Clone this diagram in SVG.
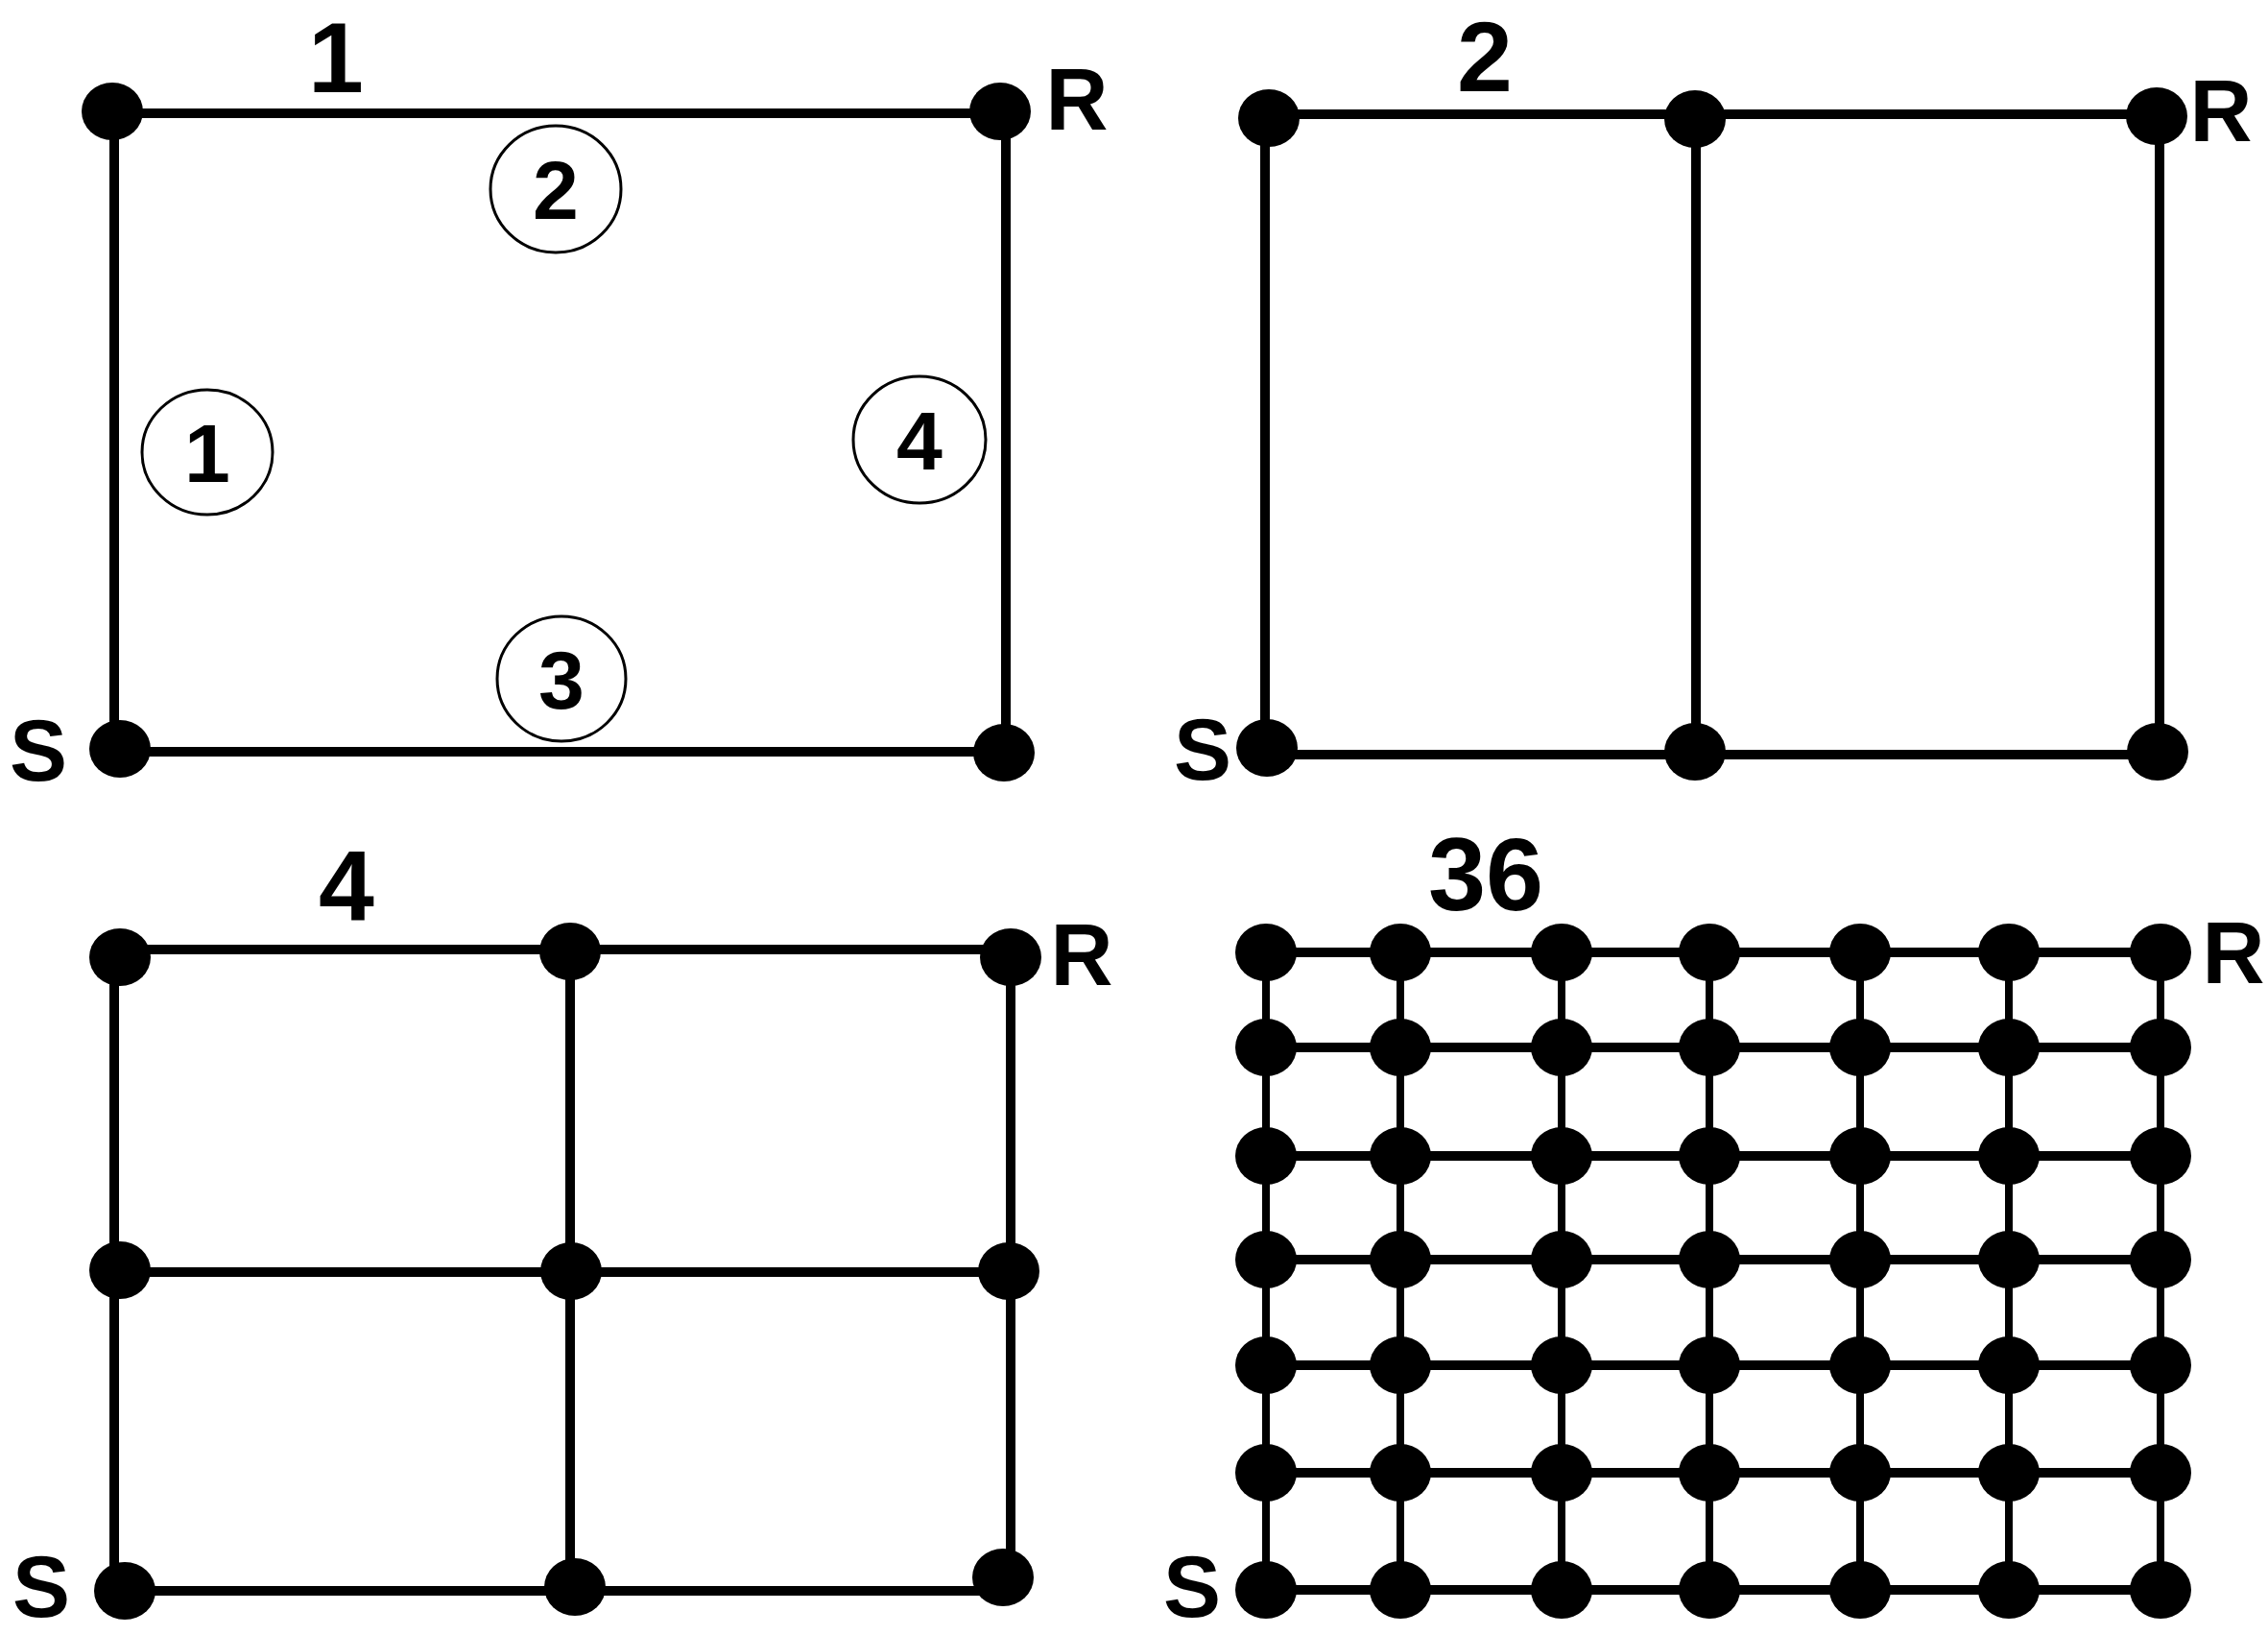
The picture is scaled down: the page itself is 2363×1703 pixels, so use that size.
<svg xmlns="http://www.w3.org/2000/svg" width="2363" height="1703" viewBox="0 0 2363 1703">
<style>
.e{stroke:#000;stroke-width:10;stroke-linecap:butt;fill:none}
.v4{stroke-width:8}
.n{fill:#000}
.c{fill:#fff;stroke:#000;stroke-width:3}
.t{font-family:"Liberation Sans",Arial,sans-serif;font-weight:bold;fill:#000;text-anchor:middle}
.big{font-size:104px}
.lab{font-size:90px}
.cn{font-size:86px}
</style>
<rect width="2363" height="1703" fill="#fff"/>
<g id="connectors">
<line class="e" x1="117" y1="118" x2="1042" y2="118"/>
<line class="e" x1="119" y1="116" x2="119" y2="780"/>
<line class="e" x1="1048" y1="116" x2="1048" y2="784"/>
<line class="e" x1="125" y1="783" x2="1046" y2="783"/>
<line class="e" x1="1322" y1="119" x2="2247" y2="119"/>
<line class="e" x1="1320" y1="786" x2="2248" y2="786"/>
<line class="e" x1="1318" y1="123" x2="1318" y2="779"/>
<line class="e" x1="1767" y1="124" x2="1767" y2="783"/>
<line class="e" x1="2250" y1="121" x2="2250" y2="783"/>
<line class="e" x1="125" y1="989" x2="1053" y2="989"/>
<line class="e" x1="125" y1="1325" x2="1051" y2="1325"/>
<line class="e" x1="130" y1="1657" x2="1045" y2="1657"/>
<line class="e" x1="119" y1="997" x2="119" y2="1657"/>
<line class="e" x1="594" y1="991" x2="594" y2="1653"/>
<line class="e" x1="1053" y1="997" x2="1053" y2="1643"/>
<line class="e" x1="1319" y1="992" x2="2251" y2="992"/>
<line class="e" x1="1319" y1="1091" x2="2251" y2="1091"/>
<line class="e" x1="1319" y1="1204" x2="2251" y2="1204"/>
<line class="e" x1="1319" y1="1312" x2="2251" y2="1312"/>
<line class="e" x1="1319" y1="1422" x2="2251" y2="1422"/>
<line class="e" x1="1319" y1="1534" x2="2251" y2="1534"/>
<line class="e" x1="1319" y1="1656" x2="2251" y2="1656"/>
<line class="e v4" x1="1319" y1="992" x2="1319" y2="1656"/>
<line class="e v4" x1="1459" y1="992" x2="1459" y2="1656"/>
<line class="e v4" x1="1627" y1="992" x2="1627" y2="1656"/>
<line class="e v4" x1="1781" y1="992" x2="1781" y2="1656"/>
<line class="e v4" x1="1938" y1="992" x2="1938" y2="1656"/>
<line class="e v4" x1="2093" y1="992" x2="2093" y2="1656"/>
<line class="e v4" x1="2251" y1="992" x2="2251" y2="1656"/>
</g>
<g id="p1-tl"><ellipse class="n" cx="117" cy="116" rx="32" ry="30"/></g>
<g id="p1-tr"><ellipse class="n" cx="1042" cy="116" rx="32" ry="30"/></g>
<g id="p1-bl"><ellipse class="n" cx="125" cy="780" rx="32" ry="30"/></g>
<g id="p1-br"><ellipse class="n" cx="1046" cy="784" rx="32" ry="30"/></g>
<g id="p1-c1"><ellipse class="c" cx="216" cy="471" rx="68" ry="65"/><text class="t cn" x="216" y="502">1</text></g>
<g id="p1-c2"><ellipse class="c" cx="579" cy="197" rx="68" ry="66"/><text class="t cn" x="579" y="228">2</text></g>
<g id="p1-c3"><ellipse class="c" cx="585" cy="707" rx="67" ry="65"/><text class="t cn" x="585" y="738">3</text></g>
<g id="p1-c4"><ellipse class="c" cx="958" cy="458" rx="69" ry="66"/><text class="t cn" x="958" y="489">4</text></g>
<g id="p2-tl"><ellipse class="n" cx="1322" cy="123" rx="32" ry="30"/></g>
<g id="p2-tm"><ellipse class="n" cx="1766" cy="124" rx="32" ry="30"/></g>
<g id="p2-tr"><ellipse class="n" cx="2247" cy="121" rx="32" ry="30"/></g>
<g id="p2-bl"><ellipse class="n" cx="1320" cy="779" rx="32" ry="30"/></g>
<g id="p2-bm"><ellipse class="n" cx="1766" cy="783" rx="32" ry="30"/></g>
<g id="p2-br"><ellipse class="n" cx="2248" cy="783" rx="32" ry="30"/></g>
<g id="p3-tl"><ellipse class="n" cx="125" cy="997" rx="32" ry="30"/></g>
<g id="p3-tm"><ellipse class="n" cx="594" cy="991" rx="32" ry="30"/></g>
<g id="p3-tr"><ellipse class="n" cx="1053" cy="997" rx="32" ry="30"/></g>
<g id="p3-ml"><ellipse class="n" cx="125" cy="1323" rx="32" ry="30"/></g>
<g id="p3-mm"><ellipse class="n" cx="595" cy="1324" rx="32" ry="30"/></g>
<g id="p3-mr"><ellipse class="n" cx="1051" cy="1324" rx="32" ry="30"/></g>
<g id="p3-bl"><ellipse class="n" cx="130" cy="1657" rx="32" ry="30"/></g>
<g id="p3-bm"><ellipse class="n" cx="599" cy="1653" rx="32" ry="30"/></g>
<g id="p3-br"><ellipse class="n" cx="1045" cy="1643" rx="32" ry="30"/></g>
<g id="p4-r1c1"><ellipse class="n" cx="1319" cy="992" rx="32" ry="30"/></g>
<g id="p4-r1c2"><ellipse class="n" cx="1459" cy="992" rx="32" ry="30"/></g>
<g id="p4-r1c3"><ellipse class="n" cx="1627" cy="992" rx="32" ry="30"/></g>
<g id="p4-r1c4"><ellipse class="n" cx="1781" cy="992" rx="32" ry="30"/></g>
<g id="p4-r1c5"><ellipse class="n" cx="1938" cy="992" rx="32" ry="30"/></g>
<g id="p4-r1c6"><ellipse class="n" cx="2093" cy="992" rx="32" ry="30"/></g>
<g id="p4-r1c7"><ellipse class="n" cx="2251" cy="992" rx="32" ry="30"/></g>
<g id="p4-r2c1"><ellipse class="n" cx="1319" cy="1091" rx="32" ry="30"/></g>
<g id="p4-r2c2"><ellipse class="n" cx="1459" cy="1091" rx="32" ry="30"/></g>
<g id="p4-r2c3"><ellipse class="n" cx="1627" cy="1091" rx="32" ry="30"/></g>
<g id="p4-r2c4"><ellipse class="n" cx="1781" cy="1091" rx="32" ry="30"/></g>
<g id="p4-r2c5"><ellipse class="n" cx="1938" cy="1091" rx="32" ry="30"/></g>
<g id="p4-r2c6"><ellipse class="n" cx="2093" cy="1091" rx="32" ry="30"/></g>
<g id="p4-r2c7"><ellipse class="n" cx="2251" cy="1091" rx="32" ry="30"/></g>
<g id="p4-r3c1"><ellipse class="n" cx="1319" cy="1204" rx="32" ry="30"/></g>
<g id="p4-r3c2"><ellipse class="n" cx="1459" cy="1204" rx="32" ry="30"/></g>
<g id="p4-r3c3"><ellipse class="n" cx="1627" cy="1204" rx="32" ry="30"/></g>
<g id="p4-r3c4"><ellipse class="n" cx="1781" cy="1204" rx="32" ry="30"/></g>
<g id="p4-r3c5"><ellipse class="n" cx="1938" cy="1204" rx="32" ry="30"/></g>
<g id="p4-r3c6"><ellipse class="n" cx="2093" cy="1204" rx="32" ry="30"/></g>
<g id="p4-r3c7"><ellipse class="n" cx="2251" cy="1204" rx="32" ry="30"/></g>
<g id="p4-r4c1"><ellipse class="n" cx="1319" cy="1312" rx="32" ry="30"/></g>
<g id="p4-r4c2"><ellipse class="n" cx="1459" cy="1312" rx="32" ry="30"/></g>
<g id="p4-r4c3"><ellipse class="n" cx="1627" cy="1312" rx="32" ry="30"/></g>
<g id="p4-r4c4"><ellipse class="n" cx="1781" cy="1312" rx="32" ry="30"/></g>
<g id="p4-r4c5"><ellipse class="n" cx="1938" cy="1312" rx="32" ry="30"/></g>
<g id="p4-r4c6"><ellipse class="n" cx="2093" cy="1312" rx="32" ry="30"/></g>
<g id="p4-r4c7"><ellipse class="n" cx="2251" cy="1312" rx="32" ry="30"/></g>
<g id="p4-r5c1"><ellipse class="n" cx="1319" cy="1422" rx="32" ry="30"/></g>
<g id="p4-r5c2"><ellipse class="n" cx="1459" cy="1422" rx="32" ry="30"/></g>
<g id="p4-r5c3"><ellipse class="n" cx="1627" cy="1422" rx="32" ry="30"/></g>
<g id="p4-r5c4"><ellipse class="n" cx="1781" cy="1422" rx="32" ry="30"/></g>
<g id="p4-r5c5"><ellipse class="n" cx="1938" cy="1422" rx="32" ry="30"/></g>
<g id="p4-r5c6"><ellipse class="n" cx="2093" cy="1422" rx="32" ry="30"/></g>
<g id="p4-r5c7"><ellipse class="n" cx="2251" cy="1422" rx="32" ry="30"/></g>
<g id="p4-r6c1"><ellipse class="n" cx="1319" cy="1534" rx="32" ry="30"/></g>
<g id="p4-r6c2"><ellipse class="n" cx="1459" cy="1534" rx="32" ry="30"/></g>
<g id="p4-r6c3"><ellipse class="n" cx="1627" cy="1534" rx="32" ry="30"/></g>
<g id="p4-r6c4"><ellipse class="n" cx="1781" cy="1534" rx="32" ry="30"/></g>
<g id="p4-r6c5"><ellipse class="n" cx="1938" cy="1534" rx="32" ry="30"/></g>
<g id="p4-r6c6"><ellipse class="n" cx="2093" cy="1534" rx="32" ry="30"/></g>
<g id="p4-r6c7"><ellipse class="n" cx="2251" cy="1534" rx="32" ry="30"/></g>
<g id="p4-r7c1"><ellipse class="n" cx="1319" cy="1656" rx="32" ry="30"/></g>
<g id="p4-r7c2"><ellipse class="n" cx="1459" cy="1656" rx="32" ry="30"/></g>
<g id="p4-r7c3"><ellipse class="n" cx="1627" cy="1656" rx="32" ry="30"/></g>
<g id="p4-r7c4"><ellipse class="n" cx="1781" cy="1656" rx="32" ry="30"/></g>
<g id="p4-r7c5"><ellipse class="n" cx="1938" cy="1656" rx="32" ry="30"/></g>
<g id="p4-r7c6"><ellipse class="n" cx="2093" cy="1656" rx="32" ry="30"/></g>
<g id="p4-r7c7"><ellipse class="n" cx="2251" cy="1656" rx="32" ry="30"/></g>
<g id="labels">
<text class="t big" x="350" y="96">1</text>
<text class="t lab" x="1122" y="135">R</text>
<text class="t lab" x="40" y="813">S</text>
<text class="t big" x="1547" y="95">2</text>
<text class="t lab" x="2314" y="147">R</text>
<text class="t lab" x="1253" y="812">S</text>
<text class="t big" x="361" y="959">4</text>
<text class="t lab" x="1127" y="1026">R</text>
<text class="t lab" x="43" y="1684">S</text>
<text class="t" style="font-size:108px" x="1548" y="948">36</text>
<text class="t lab" x="2327" y="1024">R</text>
<text class="t lab" x="1242" y="1684">S</text>
</g>
</svg>
